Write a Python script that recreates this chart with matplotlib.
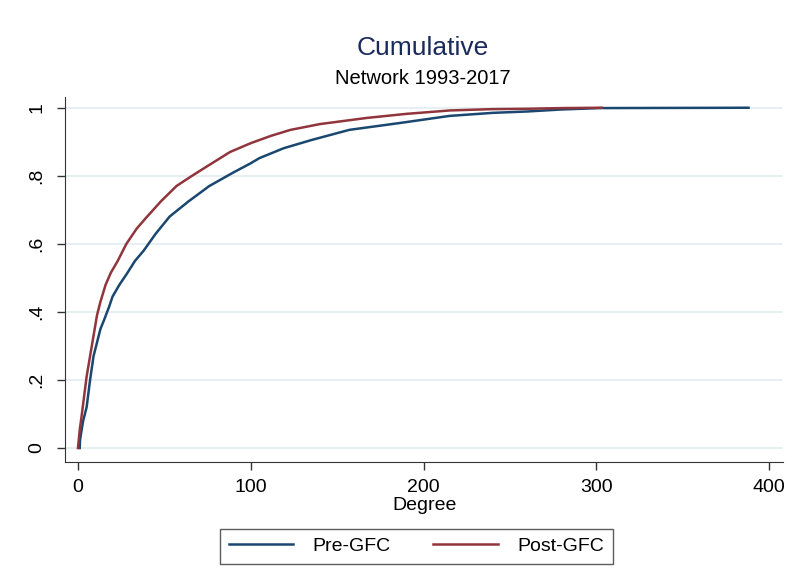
import matplotlib.pyplot as plt

plt.rcParams['font.family'] = ['Liberation Sans', 'DejaVu Sans']

# degree values and cumulative share
pre_deg = [1, 1.2, 2, 3, 4, 5, 6, 7, 9, 11, 13, 15, 18, 20, 24, 28, 33, 38, 45, 53,
           64, 76, 90, 100, 105, 119, 135, 157, 186, 215, 240, 260, 280, 302, 388]
pre_cum = [0, 0.024, 0.05, 0.08, 0.10, 0.12, 0.16, 0.20, 0.27, 0.31, 0.35, 0.375, 0.415,
           0.445, 0.48, 0.51, 0.55, 0.58, 0.63, 0.68, 0.725, 0.77, 0.81, 0.837, 0.852,
           0.881, 0.905, 0.935, 0.955, 0.976, 0.985, 0.989, 0.995, 0.999, 1.0]

post_deg = [0, 1, 2, 3, 4, 5, 6, 7, 9, 11, 13, 16, 19, 23, 28, 34, 40, 48, 57, 66, 76,
            88, 100, 112, 123, 140, 155, 167, 190, 215, 240, 260, 280, 303]
post_cum = [0, 0.053, 0.09, 0.13, 0.17, 0.21, 0.24, 0.27, 0.33, 0.39, 0.43, 0.48, 0.515,
            0.55, 0.60, 0.645, 0.68, 0.725, 0.77, 0.80, 0.832, 0.87, 0.896, 0.918, 0.935,
            0.952, 0.962, 0.97, 0.982, 0.992, 0.996, 0.997, 0.999, 1.0]

xticks = [0, 100, 200, 300, 400]
yticks = [0, 0.2, 0.4, 0.6, 0.8, 1]
ylabels = ['0', '.2', '.4', '.6', '.8', '1']

fig = plt.figure(figsize=(7.9, 5.87), dpi=100)
ax = fig.add_axes([0.0823, 0.213, 0.909, 0.622])

ax.plot(pre_deg, pre_cum, color='#1a476f', lw=1.8, label='Pre-GFC')
ax.plot(post_deg, post_cum, color='#90353b', lw=1.8, label='Post-GFC')

ax.set_xlim(-7.5, 408)
ax.set_ylim(-0.041, 1.032)
ax.set_xticks(xticks)
ax.set_yticks(yticks)
ax.set_yticklabels(ylabels, rotation=90, va='center')
ax.tick_params(axis='both', labelsize=14, length=6, width=1, color='#333333')
ax.tick_params(axis='x', pad=6)
ax.tick_params(axis='y', pad=8)
ax.grid(axis='y', color='#e3ecef', lw=1.2)
ax.set_axisbelow(True)
for s in ['top', 'right']:
    ax.spines[s].set_visible(False)
for s in ['left', 'bottom']:
    ax.spines[s].set_color('#333333')
ax.set_xlabel('Degree', fontsize=14, labelpad=1)

fig.text(0.535, 0.919, 'Cumulative', ha='center', va='center', fontsize=19, color='#1a2a5c')
fig.text(0.535, 0.866, 'Network 1993-2017', ha='center', va='center', fontsize=14.5)

leg = fig.legend(loc='center', bbox_to_anchor=(0.527, 0.069), ncol=2, fontsize=14,
                 frameon=True, fancybox=False, edgecolor='#333333', handlelength=3.3,
                 handletextpad=1.0, columnspacing=2.2, borderpad=0.45)
leg.get_frame().set_linewidth(1)

fig.savefig('out.png', dpi=100, facecolor='white')
